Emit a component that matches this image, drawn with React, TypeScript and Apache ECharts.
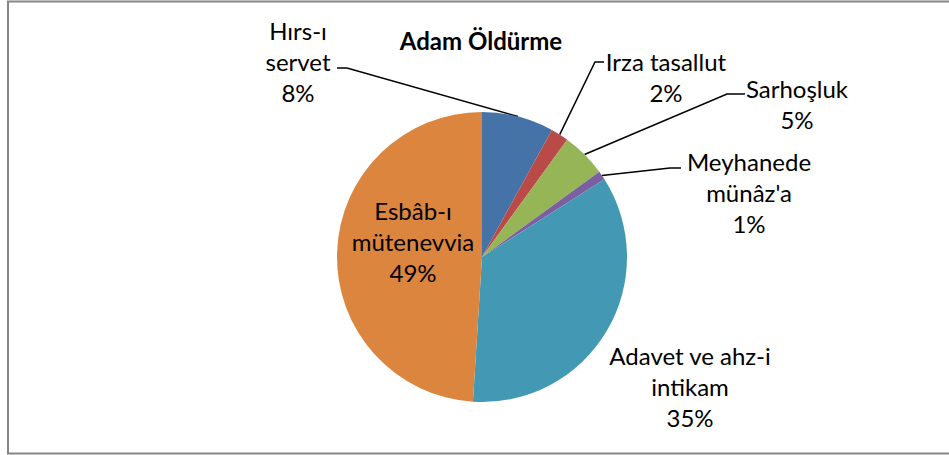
import React, { useEffect, useRef } from "react";
import * as echarts from "echarts";

const categories = [
  "Hırs-ı servet",
  "Irza tasallut",
  "Sarhoşluk",
  "Meyhanede münâz'a",
  "Adavet ve ahz-i intikam",
  "Esbâb-ı mütenevvia",
];
const values = [8, 2, 5, 1, 35, 49];
const labelText = [
  "Hırs-ı\nservet",
  "Irza tasallut",
  "Sarhoşluk",
  "Meyhanede\nmünâz'a",
  "Adavet ve ahz-i\nintikam",
  "Esbâb-ı\nmütenevvia",
];
const colors = ["#4573A7", "#BA4A48", "#95B556", "#7B5FA0", "#4399B3", "#DC853E"];
const chartTitle = "Adam Öldürme";

// label placement (layout only)
const labelPos: { x: number; y: number; line?: number[][] }[] = [
  { x: 298, y: 61, line: [[347, 68], [337, 68]] },
  { x: 666, y: 77, line: [[595, 62], [604, 62]] },
  { x: 797, y: 104, line: [[727, 94], [745, 94]] },
  { x: 749, y: 192, line: [[670, 168], [681, 168]] },
  { x: 690, y: 386 },
  { x: 413, y: 241 },
];

const FONT = "Lato";

export default function App() {
  const ref = useRef<HTMLDivElement>(null);
  useEffect(() => {
    if (!ref.current) return;
    const chart = echarts.init(ref.current, undefined, { renderer: "svg" });
    chart.setOption({
      animation: false,
      backgroundColor: "#ffffff",
      graphic: [
        {
          type: "rect",
          shape: { x: 8, y: 1.5, width: 980, height: 452 },
          style: { fill: "none", stroke: "#868686", lineWidth: 2 },
          silent: true,
        },
        {
          type: "text",
          x: 481,
          y: 40,
          style: {
            text: chartTitle,
            fill: "#000",
            font: `bold 24px ${FONT}`,
            align: "center",
            verticalAlign: "middle",
          },
        },
      ],
      series: [
        {
          type: "pie",
          center: [482, 257],
          radius: 145,
          startAngle: 90,
          clockwise: true,
          color: colors,
          label: {
            show: true,
            position: "outside",
            formatter: (p: any) => `${labelText[p.dataIndex]}\n${Math.round(p.percent)}%`,
            color: "#000",
            fontFamily: FONT,
            fontSize: 24,
            lineHeight: 31,
            align: "center",
          },
          labelLine: {
            show: true,
            lineStyle: { color: "#000", width: 1.5 },
          },
          labelLayout: (params: any) => {
            const i = params.dataIndex;
            const lp = labelPos[i];
            const res: any = { x: lp.x, y: lp.y, align: "center", verticalAlign: "middle" };
            if (lp.line && params.labelLinePoints) {
              res.labelLinePoints = [params.labelLinePoints[0], lp.line[0], lp.line[1]];
            }
            return res;
          },
          data: categories.map((name, i) => ({
            name,
            value: values[i],
            labelLine: { show: i < 4 },
            label: i === 5 ? { position: "inside" } : undefined,
          })),
        },
      ],
    });
    return () => chart.dispose();
  }, []);
  return (
    <div
      ref={ref}
      style={{ position: "fixed", left: 0, top: 0, width: 949, height: 455 }}
    />
  );
}
